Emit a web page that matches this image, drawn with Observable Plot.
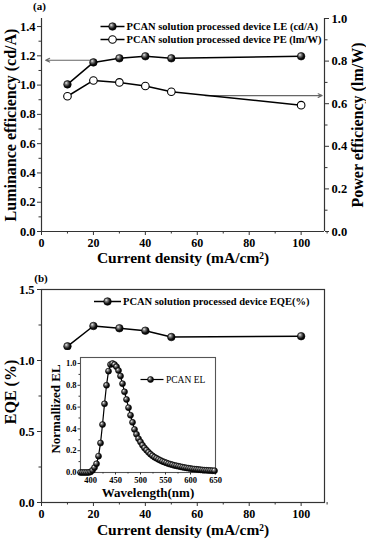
<!DOCTYPE html>
<html><head><meta charset="utf-8">
<script src="https://cdn.jsdelivr.net/npm/d3@7"></script>
<script src="https://cdn.jsdelivr.net/npm/@observablehq/plot@0.6"></script>
<style>
body{margin:0;background:#fff;}
#wrap{position:relative;width:366px;height:540px;}
#a,#b{width:366px;height:270px;}
#inset{position:absolute;left:45px;top:350px;}
#wrap svg{overflow:visible;}
</style></head><body>
<svg width="0" height="0" style="position:absolute"><defs>
<radialGradient id="ball" cx="0.4" cy="0.38" r="0.62" fx="0.33" fy="0.3">
<stop offset="0" stop-color="#f2f2f2"/><stop offset="0.3" stop-color="#808080"/><stop offset="0.7" stop-color="#151515"/><stop offset="1" stop-color="#000"/>
</radialGradient></defs></svg>
<div id="wrap"><div id="a"></div><div id="b"></div><div id="inset"></div></div>
<script>
// ---- data ----
const currentDensity = [10, 20, 30, 40, 50, 100];
const luminanceEff = [1.005, 1.155, 1.183, 1.197, 1.183, 1.197];   // cd/A (left axis)
const powerEff = [0.635, 0.709, 0.700, 0.683, 0.656, 0.593];       // lm/W (right axis)
const eqe = [1.10, 1.243, 1.227, 1.21, 1.165, 1.171];              // %
const elWavelength = [380,384,388,392,396,400,404,408,412,416,420,424,428,432,436,440,444,448,452,456,460,464,468,472,476,480,484,488,492,496,500,504,508,512,516,520,524,528,532,536,540,544,548,552,556,560,564,568,572,576,580,584,588,592,596,600,604,608,612,616,620,624,628,632,636,640,644,648];
const elIntensity = [0,0,0,0,0,0.005,0.02,0.045,0.08,0.15,0.27,0.44,0.63,0.80,0.93,0.99,1.0,0.99,0.97,0.935,0.885,0.815,0.74,0.67,0.595,0.525,0.46,0.395,0.35,0.31,0.28,0.25,0.225,0.205,0.185,0.168,0.153,0.14,0.13,0.12,0.111,0.102,0.095,0.088,0.081,0.075,0.07,0.065,0.061,0.057,0.053,0.049,0.045,0.042,0.039,0.036,0.033,0.031,0.029,0.027,0.025,0.023,0.021,0.02,0.019,0.018,0.017,0.016];
const xTicks = [0, 20, 40, 60, 80, 100];
const xMinor = [10, 30, 50, 70, 90, 110];
const leTicks = [0, 0.2, 0.4, 0.6, 0.8, 1.0, 1.2, 1.4];
const leMinor = [0.1, 0.3, 0.5, 0.7, 0.9, 1.1, 1.3];
const peTicks = [0, 0.2, 0.4, 0.6, 0.8, 1.0];
const peMinor = [0.1, 0.3, 0.5, 0.7, 0.9];
const eqeTicks = [0, 0.5, 1.0, 1.5];
const eqeMinor = [0.25, 0.75, 1.25];
const elXTicks = [400, 450, 500, 550, 600, 650];
const elXMinor = [425, 475, 525, 575, 625];
const elYTicks = [0, 0.2, 0.4, 0.6, 0.8, 1.0];
const elYMinor = [0.1, 0.3, 0.5, 0.7, 0.9];
const leArrow = [{from: 19, to: 1.6, value: 1.17}];
const peArrow = [{from: 63, to: 108.1, value: 0.638}];
const legendA = ["PCAN solution processed device LE (cd/A)", "PCAN solution processed device PE (lm/W)"];
const legendB = ["PCAN solution processed device EQE(%)"];
const legendInset = ["PCAN EL"];

const rowsA = currentDensity.map((x, i) => ({x, le: luminanceEff[i], pe: powerEff[i]}));
const rowsB = currentDensity.map((x, i) => ({x, eqe: eqe[i]}));
const rowsEL = elWavelength.map((w, i) => ({w, v: elIntensity[i]}));

const FONT = "Liberation Serif, Times New Roman, serif";
const AX = "#333";
const LEmax = 1.455;     // left axis top
const k = LEmax / 1.0;   // right axis (0..1.0) mapped onto left scale
const lineSym = (half) => ({draw(ctx) { ctx.moveTo(-half, 0); ctx.lineTo(half, 0); }});
const one = [0];

function legendEntry(label, dx, dy, half, open, fs, weight) {
  return [
    Plot.dot(one, {frameAnchor: "top-left", dx: dx, dy: dy, r: 4, symbol: lineSym(half), fill: "none", stroke: "#000", strokeWidth: 1.5}),
    Plot.dot(one, {frameAnchor: "top-left", dx: dx, dy: dy, r: 3.8, fill: open ? "#fff" : "url(#ball)", stroke: "#000", strokeWidth: open ? 1.1 : 0.6}),
    Plot.text([label], {frameAnchor: "top-left", text: d => d, dx: dx + half + 2, dy: dy, textAnchor: "start", lineAnchor: "middle", fontSize: fs, fontWeight: weight, fill: "#000"})
  ];
}

// ---------- Panel (a) ----------
const plotA = Plot.plot({
  width: 366, height: 270,
  marginLeft: 41, marginRight: 42, marginTop: 18, marginBottom: 39,
  style: {fontFamily: FONT, fontWeight: "bold", fontSize: "12px", color: "#000", background: "transparent"},
  x: {domain: [0, 109]},
  y: {domain: [0, LEmax]},
  marks: [
    Plot.ruleX([0], {stroke: AX, strokeWidth: 1.2}),
    Plot.ruleX([109], {stroke: AX, strokeWidth: 1.2}),
    Plot.ruleY([0], {stroke: AX, strokeWidth: 1.2}),
    Plot.axisX(xTicks, {tickSize: 4, tickPadding: 3, tickFormat: d => String(d), label: null, fontSize: 12, stroke: AX}),
    Plot.axisX(xMinor, {tickSize: 2.5, tickFormat: () => "", label: null, stroke: AX}),
    Plot.axisY(leTicks, {anchor: "left", tickSize: 4, tickPadding: 2, tickFormat: d => d.toFixed(1), label: null, fontSize: 12.5, stroke: AX}),
    Plot.axisY(leMinor, {anchor: "left", tickSize: 2.5, tickFormat: () => "", label: null, stroke: AX}),
    Plot.axisY(peTicks.map(v => v * k), {anchor: "right", tickSize: 4, tickPadding: 3, tickFormat: d => (d / k).toFixed(1), label: null, fontSize: 12.5, stroke: AX}),
    Plot.axisY(peMinor.map(v => v * k), {anchor: "right", tickSize: 2.5, tickFormat: () => "", label: null, stroke: AX}),
    Plot.arrow(leArrow, {x1: "from", x2: "to", y1: "value", y2: "value", stroke: "#666", strokeWidth: 1.1, headLength: 6, headAngle: 50}),
    Plot.arrow(peArrow, {x1: "from", x2: "to", y1: d => d.value * k, y2: d => d.value * k, stroke: "#666", strokeWidth: 1.1, headLength: 6, headAngle: 50}),
    Plot.line(rowsA, {x: "x", y: "le", stroke: "#000", strokeWidth: 1.5}),
    Plot.line(rowsA, {x: "x", y: d => d.pe * k, stroke: "#000", strokeWidth: 1.5}),
    Plot.dot(rowsA, {x: "x", y: "le", r: 3.8, fill: "url(#ball)", stroke: "#000", strokeWidth: 0.6}),
    Plot.dot(rowsA, {x: "x", y: d => d.pe * k, r: 3.8, fill: "#fff", stroke: "#000", strokeWidth: 1.1}),
    ...legendEntry(legendA[0], 71, 8, 12, false, 10.5, "bold"),
    ...legendEntry(legendA[1], 71, 21, 12, true, 10.5, "bold"),
    Plot.text(["(a)"], {frameAnchor: "top-left", text: d => d, dx: -2, dy: -12, textAnchor: "middle", lineAnchor: "middle", fontSize: 11}),
    Plot.text(["Luminance efficiency (cd/A)"], {frameAnchor: "left", text: d => d, rotate: -90, dx: -31, textAnchor: "middle", lineAnchor: "middle", fontSize: 16}),
    Plot.text(["Power efficiency (lm/W)"], {frameAnchor: "right", text: d => d, rotate: -90, dx: 33, textAnchor: "middle", lineAnchor: "middle", fontSize: 16}),
    Plot.text(["Current density (mA/cm²)"], {frameAnchor: "bottom", text: d => d, dy: 27, textAnchor: "middle", lineAnchor: "middle", fontSize: 15.5})
  ]
});
document.getElementById("a").append(plotA);

// ---------- Panel (b) ----------
const plotB = Plot.plot({
  width: 366, height: 270,
  marginLeft: 41, marginRight: 42, marginTop: 19, marginBottom: 38,
  style: {fontFamily: FONT, fontWeight: "bold", fontSize: "12px", color: "#000", background: "transparent"},
  x: {domain: [0, 109]},
  y: {domain: [0, 1.5]},
  marks: [
    Plot.frame({stroke: AX, strokeWidth: 1.2}),
    Plot.axisX(xTicks, {tickSize: 4, tickPadding: 3, tickFormat: d => String(d), label: null, fontSize: 12, stroke: AX}),
    Plot.axisX(xMinor, {tickSize: 2.5, tickFormat: () => "", label: null, stroke: AX}),
    Plot.axisY(eqeTicks, {anchor: "left", tickSize: 4, tickPadding: 3, tickFormat: d => d.toFixed(1), label: null, fontSize: 12.5, stroke: AX}),
    Plot.axisY(eqeMinor, {anchor: "left", tickSize: 2.5, tickFormat: () => "", label: null, stroke: AX}),
    Plot.line(rowsB, {x: "x", y: "eqe", stroke: "#000", strokeWidth: 1.5}),
    Plot.dot(rowsB, {x: "x", y: "eqe", r: 3.8, fill: "url(#ball)", stroke: "#000", strokeWidth: 0.6}),
    ...legendEntry(legendB[0], 66, 12, 13.5, false, 10.5, "bold"),
    Plot.text(["(b)"], {frameAnchor: "top-left", text: d => d, dx: -0.5, dy: -11.5, textAnchor: "middle", lineAnchor: "middle", fontSize: 11}),
    Plot.text(["EQE (%)"], {frameAnchor: "left", text: d => d, rotate: -90, dx: -31, dy: -4, textAnchor: "middle", lineAnchor: "middle", fontSize: 16}),
    Plot.text(["Current density (mA/cm²)"], {frameAnchor: "bottom", text: d => d, dy: 28, textAnchor: "middle", lineAnchor: "middle", fontSize: 15.5})
  ]
});
document.getElementById("b").append(plotB);

// ---------- Inset (EL spectrum) ----------
const plotInset = Plot.plot({
  width: 175, height: 150,
  marginLeft: 35, marginRight: 5, marginTop: 7, marginBottom: 28,
  style: {fontFamily: FONT, fontWeight: "bold", fontSize: "8.5px", color: "#000", background: "#fff"},
  x: {domain: [380, 650]},
  y: {domain: [0, 1.055]},
  marks: [
    Plot.frame({stroke: "#555", strokeWidth: 1.1}),
    Plot.axisX(elXTicks, {tickSize: 2.5, tickPadding: 2, tickFormat: d => String(d), label: null, fontSize: 8.5, stroke: AX}),
    Plot.axisX(elXMinor, {tickSize: 1.5, tickFormat: () => "", label: null, stroke: AX}),
    Plot.axisY(elYTicks, {anchor: "left", tickSize: 2.5, tickPadding: 1.5, tickFormat: d => d.toFixed(1), label: null, fontSize: 8.5, stroke: AX}),
    Plot.axisY(elYMinor, {anchor: "left", tickSize: 1.5, tickFormat: () => "", label: null, stroke: AX}),
    Plot.line(rowsEL, {x: "w", y: "v", stroke: "#000", strokeWidth: 1.2}),
    Plot.dot(rowsEL, {x: "w", y: "v", r: 3, fill: "url(#ball)", stroke: "#000", strokeWidth: 0.6}),
    Plot.dot(one, {frameAnchor: "top-left", dx: 71.5, dy: 22, r: 4, symbol: lineSym(11.5), fill: "none", stroke: "#000", strokeWidth: 1.2}),
    Plot.dot(one, {frameAnchor: "top-left", dx: 70, dy: 22, r: 3, fill: "url(#ball)", stroke: "#000", strokeWidth: 0.6}),
    Plot.text(legendInset, {frameAnchor: "top-left", text: d => d, dx: 85.5, dy: 22, textAnchor: "start", lineAnchor: "middle", fontSize: 9.5, fontWeight: "normal"}),
    Plot.text(["Normallized EL"], {frameAnchor: "left", text: d => d, rotate: -90, dx: -25, dy: -6, textAnchor: "middle", lineAnchor: "middle", fontSize: 13}),
    Plot.text(["Wavelength(nm)"], {frameAnchor: "bottom", text: d => d, dy: 20, textAnchor: "middle", lineAnchor: "middle", fontSize: 13})
  ]
});
document.getElementById("inset").append(plotInset);
</script>
</body></html>
